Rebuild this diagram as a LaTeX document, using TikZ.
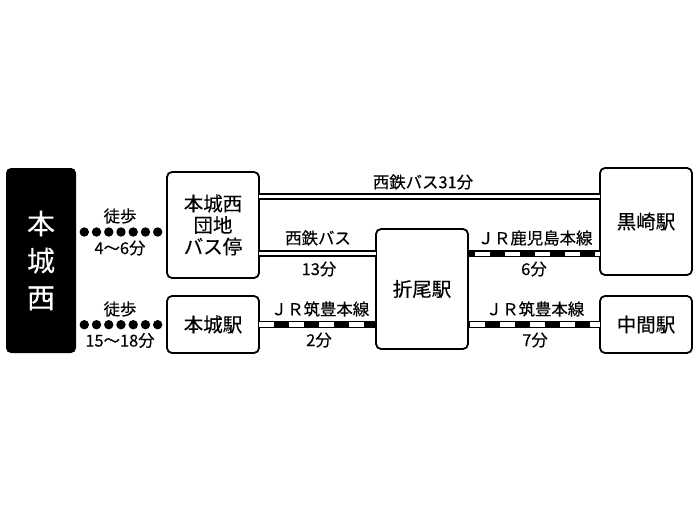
\documentclass[tikz,border=0pt]{standalone}
\usepackage{fontspec}
\setmainfont[FakeBold=0.25]{Noto Sans CJK JP}
\tikzset{
  stationbox/.style={draw,rounded corners=5pt,line width=1.8pt,minimum width=92pt,outer sep=0pt,align=center,font=\fontsize{19.5}{21.5}\selectfont},
  mainbox/.style={fill=black,text=white,rounded corners=5pt,minimum width=70pt,minimum height=185pt,outer sep=0pt,align=center,font=\fontsize{28}{37}\selectfont},
  info/.style={font=\fontsize{16.4}{18}\selectfont,inner sep=0pt},
  busline/.style={draw,line width=2pt,double,double distance=3pt},
  walkline/.style={draw,line width=9.4pt,line cap=round,dash pattern=on 0pt off 12.23pt},
  railline/.style={draw,line width=7pt,
    postaction={draw,white,line width=4.2pt},
    postaction={draw,black,line width=7pt,dash pattern=on 15pt off 15pt,dash phase=#1}}
}
\begin{document}
\begin{tikzpicture}[x=1pt,y=-1pt]
\useasboundingbox (0,0) rectangle (700,525);
\node[mainbox] (H) at (41,260.5) {本\\城\\西};
\node[stationbox,minimum height=106pt] (S) at (213,225) {本城西\\団地\\バス停};
\node[stationbox,minimum height=57pt] (E) at (213,324.5) {本城駅};
\node[stationbox,minimum height=120pt] (O) at (422,289) {折尾駅};
\node[stationbox,minimum height=107pt] (K) at (646,221.5) {黒崎駅};
\node[stationbox,minimum height=57pt] (N) at (646,324.5) {中間駅};
% walking
\coordinate (w1) at (84.3,232);
\coordinate (w2) at (158,232);
\coordinate (w3) at (84.3,324.7);
\coordinate (w4) at (158,324.7);
\draw[walkline] (w1) -- (w2);
\draw[walkline] (w3) -- (w4);
\node[info] (t1) at (120,216) {徒歩};
\node[info] (t2) at (120,248) {4〜6分};
\node[info] (t3) at (120,309) {徒歩};
\node[info] (t4) at (120,340.5) {15〜18分};
% bus
\coordinate (y1) at (0,196);
\coordinate (y2) at (0,253.7);
\draw[busline] (S.east |- y1) -- (K.west |- y1);
\draw[busline] (S.east |- y2) -- (O.west |- y2);
\node[info] (b1) at (423,182) {西鉄バス31分};
\node[info] (b2) at (318,238) {西鉄バス};
\node[info] (b3) at (319,269) {13分};
% rail
\draw[railline=15] (E.east) -- (E.east -| O.west);
\draw[railline=8] (O.east |- y2) -- (K.west |- y2);
\draw[railline=13] (O.east |- N.west) -- (N.west);
\node[info] (r1) at (320,309) {ＪＲ筑豊本線};
\node[info] (r2) at (319,340) {2分};
\node[info] (r3) at (535,238) {ＪＲ鹿児島本線};
\node[info] (r4) at (534,269) {6分};
\node[info] (r5) at (535,309) {ＪＲ筑豊本線};
\node[info] (r6) at (535,340) {7分};
\end{tikzpicture}
\end{document}
